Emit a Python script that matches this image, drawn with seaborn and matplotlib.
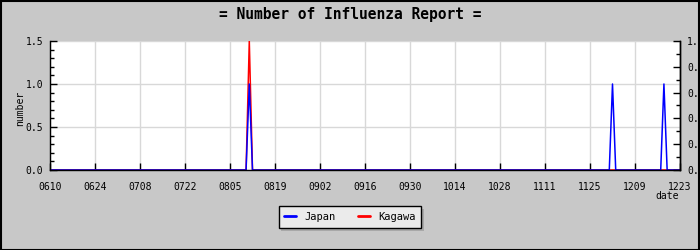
import matplotlib
matplotlib.use("Agg")
import matplotlib.pyplot as plt
import matplotlib.dates as mdates
from matplotlib.patches import Rectangle
from matplotlib.ticker import MultipleLocator, FixedLocator
import seaborn as sns
import pandas as pd

# ---- data ----
dates = ["0610", "0810", "0811", "0812", "1201", "1202", "1203",
         "1217", "1218", "1219", "1223"]
japan = [0, 0, 1.0, 0, 0, 1.0, 0, 0, 1.0, 0, 0]
kagawa = [0, 0, 1.5, 0, 0, 0, 0, 0, 0, 0, 0]
tick_labels = ["0610", "0624", "0708", "0722", "0805", "0819", "0902", "0916",
               "0930", "1014", "1028", "1111", "1125", "1209", "1223"]
year = 2009

dt = pd.to_datetime([f"{year}{d}" for d in dates], format="%Y%m%d")
df = pd.concat([
    pd.DataFrame({"date": dt, "number": japan, "series": "Japan"}),
    pd.DataFrame({"date": dt, "number": kagawa, "series": "Kagawa"}),
])

sns.set_theme(style="white")
mono = "DejaVu Sans Mono"
plt.rcParams["font.family"] = [mono]
for k in ["text.color", "axes.labelcolor", "xtick.color", "ytick.color"]:
    plt.rcParams[k] = "black"

BG = "#c8c8c8"
fig = plt.figure(figsize=(7, 2.5), dpi=100, facecolor=BG)
ax = fig.add_axes([50 / 700, 1 - 170 / 250, 630 / 700, 129 / 250])
ax.set_facecolor("white")

sns.lineplot(data=df, x="date", y="number", hue="series",
             palette={"Japan": "#0000ff", "Kagawa": "#ff0000"},
             hue_order=["Japan", "Kagawa"], linewidth=1.1, ax=ax,
             legend=False, estimator=None)
lines = ax.get_lines()
if len(lines) >= 2:
    lines[0].set_zorder(3)

tick_dt = pd.to_datetime([f"{year}{t}" for t in tick_labels], format="%Y%m%d")
ax.set_xlim(tick_dt[0], tick_dt[-1])
ax.set_ylim(0, 1.5)
ax.xaxis.set_major_locator(FixedLocator(mdates.date2num(tick_dt)))
ax.set_xticklabels(tick_labels)
ax.yaxis.set_major_locator(MultipleLocator(0.5))
ax.yaxis.set_minor_locator(MultipleLocator(0.1))
ax.yaxis.set_major_formatter(matplotlib.ticker.FormatStrFormatter("%.1f"))

ax.grid(True, which="major", color="#d8d8d8", linewidth=1)
ax.tick_params(axis="x", direction="in", length=5, width=1, color="black",
               labelcolor="black", labelsize=7, pad=9, bottom=True)
ax.tick_params(axis="y", which="major", direction="in", length=5, width=1,
               color="black", labelcolor="black", labelsize=7, pad=5, left=True)
ax.tick_params(axis="y", which="minor", direction="in", length=3, width=1,
               color="black", left=True)

for s in ["left", "bottom", "right"]:
    ax.spines[s].set_color("black")
    ax.spines[s].set_linewidth(1)
    ax.spines[s].set_zorder(5)
ax.spines["top"].set_visible(False)

ax.set_xlabel("date", fontsize=7, family=mono, color="black")
ax.xaxis.set_label_coords((667 - 50) / 630, (170 - 196) / 129)
ax.xaxis.label.set_va("center")
ax.set_ylabel("number", fontsize=7, family=mono, color="black")
ax.yaxis.set_label_coords((20 - 50) / 630, (170 - 108) / 129)
ax.yaxis.label.set_va("center")

# right axis
ax2 = ax.twinx()
ax2.set_ylim(0, 1.0)
ax2.yaxis.set_major_locator(MultipleLocator(0.2))
ax2.yaxis.set_minor_locator(MultipleLocator(0.1))
ax2.yaxis.set_major_formatter(matplotlib.ticker.FormatStrFormatter("%.1f"))
ax2.tick_params(axis="y", which="major", direction="in", length=5, width=1,
                color="black", labelcolor="black", labelsize=7, pad=5, right=True)
ax2.tick_params(axis="y", which="minor", direction="in", length=3, width=1,
                color="black", right=True)
for s in ["left", "bottom", "top"]:
    ax2.spines[s].set_visible(False)
ax2.spines["right"].set_color("black")
ax2.spines["right"].set_linewidth(1)

# title
fig.text(0.5, 1 - 14 / 250, "= Number of Influenza Report =", ha="center",
         va="center", family=mono, fontweight="bold", fontsize=10.5, color="black")

# legend
handles = [plt.Line2D([], [], color="#0000ff", linewidth=2),
           plt.Line2D([], [], color="#ff0000", linewidth=2)]
leg = fig.legend(handles, ["Japan", "Kagawa"], loc="center",
                 bbox_to_anchor=(350 / 700, 1 - 217 / 250), ncol=2,
                 frameon=True, fancybox=False,
                 shadow={"facecolor": "#a8a8a8", "edgecolor": "none", "alpha": 1},
                 handlelength=1.1, handletextpad=0.8, columnspacing=2.2,
                 borderpad=0.55, prop={"family": mono, "size": 7.5})
for t in leg.get_texts():
    t.set_color("black")
leg.get_frame().set_facecolor("#ebebeb")
leg.get_frame().set_edgecolor("black")
leg.get_frame().set_linewidth(1)
leg.get_frame().set_alpha(1)

# outer border
fig.patches.append(Rectangle((0.001, 0.002), 0.997, 0.995, transform=fig.transFigure,
                             fill=False, edgecolor="black", linewidth=1.5))

fig.savefig("out.png", dpi=100, facecolor=BG)
